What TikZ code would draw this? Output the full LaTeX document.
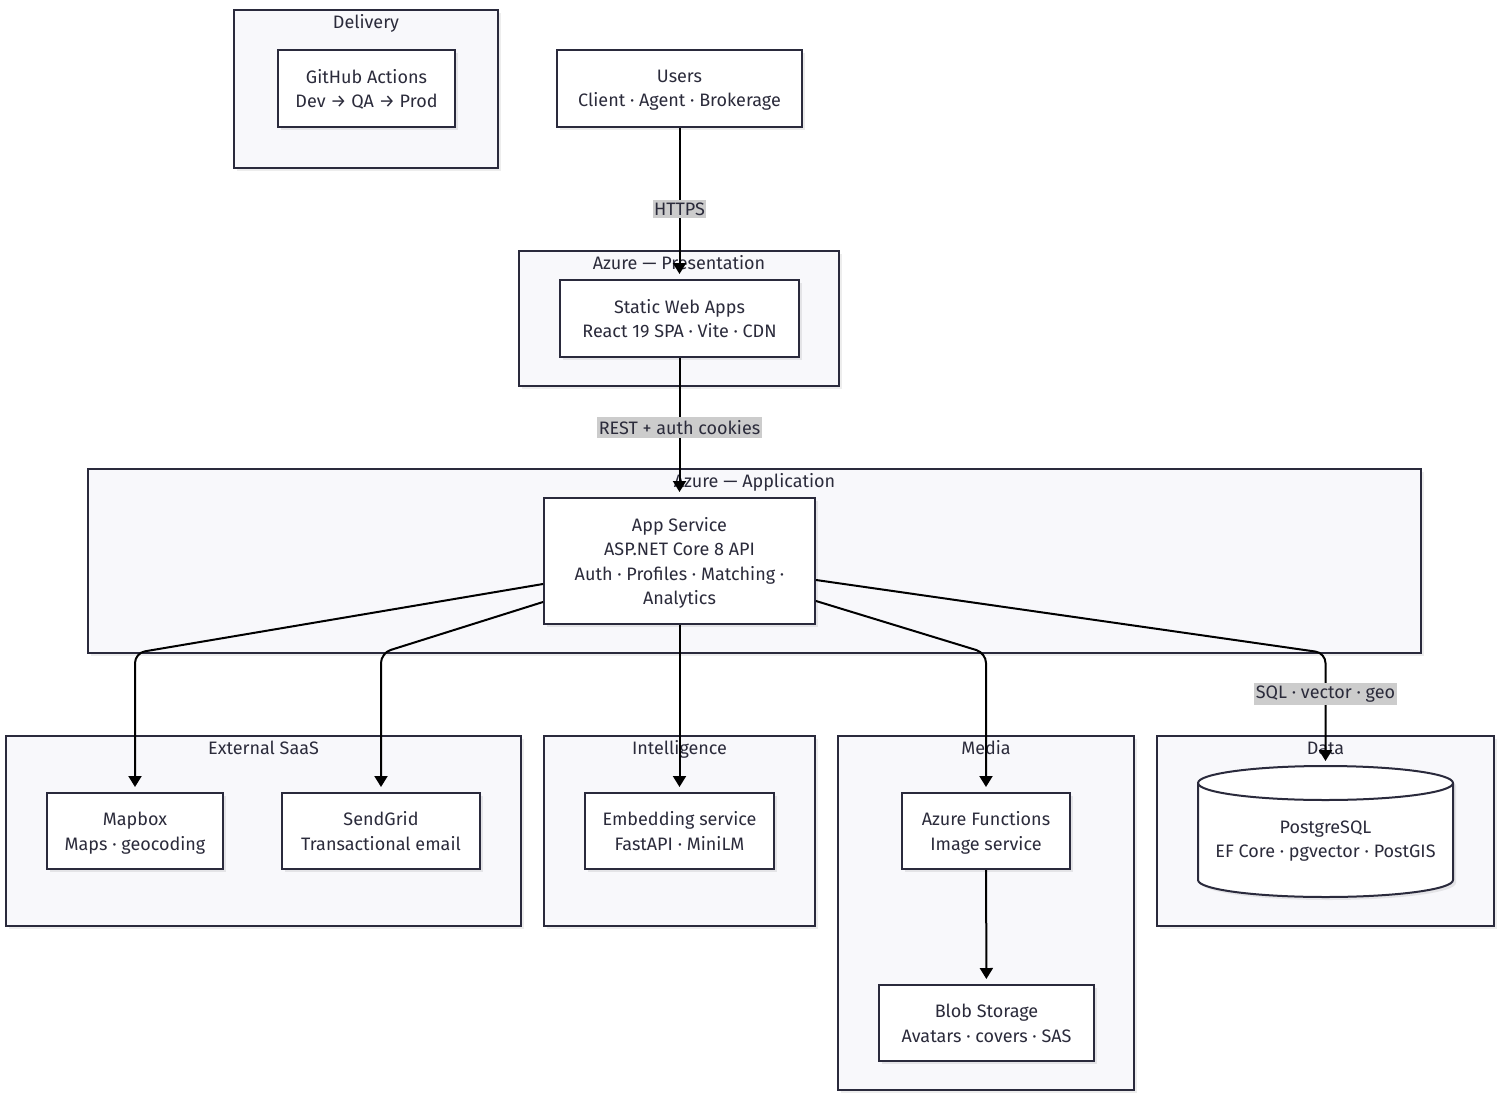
\documentclass[tikz,border=0pt]{standalone}
\usepackage{fontspec}
\setmainfont{Fira Sans}
\usetikzlibrary{arrows.meta,shadows,calc}
\definecolor{bord}{HTML}{2A2A3C}
\definecolor{clfill}{HTML}{F8F8FB}
\definecolor{txt}{HTML}{2B2B3B}
\definecolor{lblbg}{HTML}{CCCCCC}
\begin{document}
\begin{tikzpicture}[x=1pt,y=-1pt,
  font=\fontsize{18}{24.5}\selectfont, text=txt,
  cluster/.style={draw=bord, fill=clfill, line width=1.8pt, inner sep=0pt,
    drop shadow={shadow xshift=3pt, shadow yshift=-3pt, fill=black, opacity=0.07}},
  box/.style={draw=bord, fill=white, line width=2pt, align=center, inner sep=0pt, text depth=0pt,
    drop shadow={shadow xshift=3pt, shadow yshift=-3pt, fill=black, opacity=0.08}},
  ctitle/.style={anchor=base, inner sep=0pt},
  arr/.style={draw=black, line width=2pt, -{Triangle[width=13pt,length=11pt]}, shorten >=5pt},
  elabel/.style={fill=lblbg, inner xsep=1.5pt, inner ysep=3pt, text=txt}
]
\useasboundingbox (0,0) rectangle (1500,1100);
\fill[white] (0,0) rectangle (1500,1100);

% clusters
\node[cluster, minimum width=264, minimum height=158] (cdel) at (366,89) {};
\node[ctitle] (tdel) at ($(cdel.north)+(0,19)$) {Delivery};
\node[cluster, minimum width=320, minimum height=135] (cpres) at (679,318.5) {};
\node[ctitle] (tpres) at ($(cpres.north)+(0,19)$) {Azure — Presentation};
\node[cluster, minimum width=1333, minimum height=184] (capp) at (754.5,561) {};
\node[ctitle] (tapp) at ($(capp.north)+(0,19)$) {Azure — Application};
\node[cluster, minimum width=515, minimum height=190] (cext) at (263.5,831) {};
\node[ctitle] (text) at ($(cext.north)+(0,19)$) {External SaaS};
\node[cluster, minimum width=271, minimum height=190] (cint) at (679.5,831) {};
\node[ctitle] (tint) at ($(cint.north)+(0,19)$) {Intelligence};
\node[cluster, minimum width=296, minimum height=354] (cmed) at (986,913) {};
\node[ctitle] (tmed) at ($(cmed.north)+(0,19)$) {Media};
\node[cluster, minimum width=337, minimum height=190] (cdat) at (1325.5,831) {};
\node[ctitle] (tdat) at ($(cdat.north)+(0,19)$) {Data};

% nodes
\node[box, minimum width=177, minimum height=77] (gh) at (366.5,88.5) {GitHub Actions\\Dev → QA → Prod};
\node[box, minimum width=245, minimum height=77] (users) at (679.5,88.5) {Users\\Client · Agent · Brokerage};
\node[box, minimum width=239, minimum height=77] (static) at (679.5,318.5) {Static Web Apps\\React 19 SPA · Vite · CDN};
\node[box, minimum width=271, minimum height=126] (app) at (679.5,561) {App Service\\ASP.NET Core 8 API\\Auth · Profiles · Matching ·\\Analytics};
\node[box, minimum width=176, minimum height=76] (mapbox) at (135,831) {Mapbox\\Maps · geocoding};
\node[box, minimum width=198, minimum height=76] (sendgrid) at (381,831) {SendGrid\\Transactional email};
\node[box, minimum width=189, minimum height=76] (embed) at (679.5,831) {Embedding service\\FastAPI · MiniLM};
\node[box, minimum width=168, minimum height=76] (func) at (986,831) {Azure Functions\\Image service};
\node[box, minimum width=215, minimum height=76] (blob) at (986.5,1023) {Blob Storage\\Avatars · covers · SAS};

% cylinder
\fill[black, opacity=0.08, shift={(3,3)}] (1198,783) -- (1198,880) arc(180:0:127.5 and 17) -- (1453,783) arc(0:-180:127.5 and 17) -- cycle;
\draw[bord, fill=white, line width=2pt] (1198,783) -- (1198,880) arc(180:0:127.5 and 17) -- (1453,783) arc(0:-180:127.5 and 17) -- cycle;
\draw[bord, line width=2pt] (1198,783) arc(180:0:127.5 and 17);
\node[align=center, inner sep=0pt, text depth=0pt] (pg) at (1325.5,839) {PostgreSQL\\EF Core · pgvector · PostGIS};
\coordinate (pgtop) at (1325.5,766);

% edges
\coordinate (rowy) at (0,653);
\draw[arr] (users) -- node[elabel, pos=0.536] (lhttps) {HTTPS} (static);
\draw[arr] (static) -- node[elabel, pos=0.5] (lrest) {REST + auth cookies} (app);
\draw[arr, rounded corners=10pt] ($(app.west)+(0,23)$) -- (mapbox.north |- rowy) -- (mapbox.north);
\draw[arr, rounded corners=10pt] ($(app.west)+(0,41)$) -- (sendgrid.north |- rowy) -- (sendgrid.north);
\draw[arr] (app.south) -- (embed.north);
\draw[arr, rounded corners=10pt] ($(app.east)+(0,40)$) -- (func.north |- rowy) -- (func.north);
\draw[arr, rounded corners=10pt] ($(app.east)+(0,19)$) -- (pgtop |- rowy) -- (pgtop);
\node[elabel] (lsql) at (1325.5,694) {SQL · vector · geo};
\draw[arr] (func) -- (blob);
\end{tikzpicture}
\end{document}
